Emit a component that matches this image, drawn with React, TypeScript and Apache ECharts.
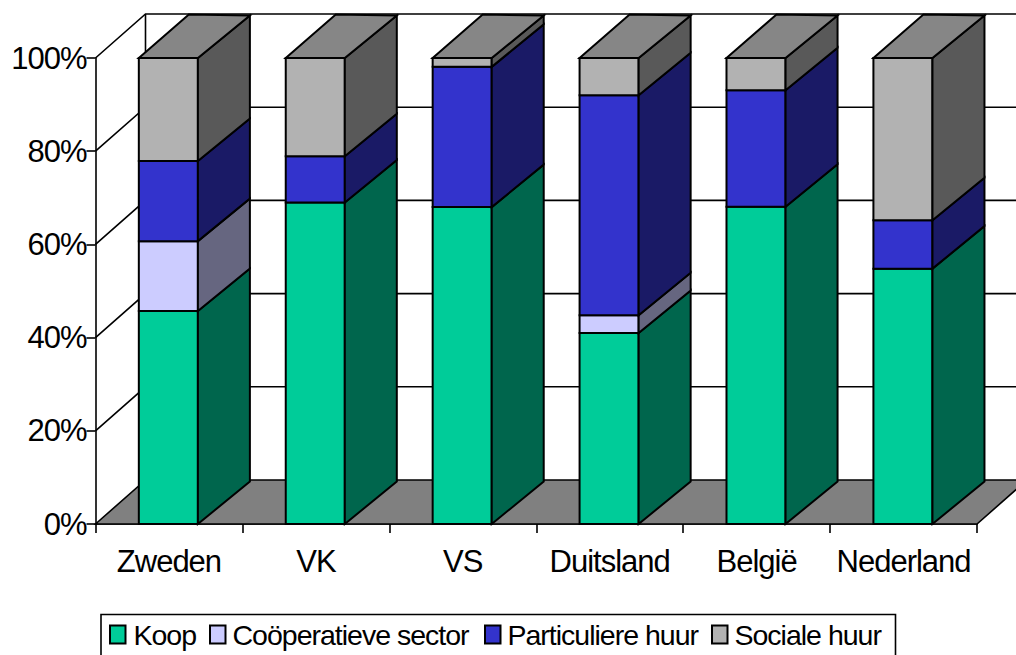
import React, { useEffect, useRef } from "react";
import * as echarts from "echarts";

const categories = ["Zweden", "VK", "VS", "Duitsland", "België", "Nederland"];
const koop = [45.7, 69, 68, 41, 68.1, 54.8];
const cooperatief = [15, 0, 0, 3.8, 0, 0];
const particulier = [17.2, 9.9, 30.1, 47.2, 25, 10.4];
const sociaal = [22.1, 21.1, 1.9, 8, 6.9, 34.8];
const yTicks = [0, 20, 40, 60, 80, 100];

const seriesNames = ["Koop", "Coöperatieve sector", "Particuliere huur", "Sociale huur"];
const seriesValues = [koop, cooperatief, particulier, sociaal];
const frontColors = ["#00CC99", "#CCCCFF", "#3333CC", "#B2B2B2"];
const sideColors = ["#00664D", "#666680", "#1A1A66", "#595959"];
const legendLefts = [109, 209, 484, 711];
const legendTextPads = [3, 2, 2, 2];
const topColor = "#868686";
const floorColor = "#808080";
const FONT = '"Liberation Sans", Arial, sans-serif';
const WALL_DX = 50;
const WALL_DY = -44;
const BAR_DX = 52;
const BAR_DY = -42.5;
const LW = 1.6;
const BAR_LW = 2;

export default function App() {
  const ref = useRef<HTMLDivElement>(null);
  useEffect(() => {
    const chart = echarts.init(ref.current!, null, { renderer: "svg" });
    const line = { stroke: "#000", lineWidth: LW, fill: "none" };
    const walls = {
      type: "custom",
      silent: true,
      clip: false,
      z: 1,
      data: yTicks.map((t) => [t]),
      renderItem: (params: any, api: any) => {
        const cs = params.coordSys;
        const y = api.coord([0, api.value(0)])[1];
        const x0 = cs.x;
        const x1 = cs.x + cs.width;
        const children: any[] = [];
        if (api.value(0) === 0) {
          children.push({
            type: "polygon",
            shape: {
              points: [
                [x0, y],
                [x0 + WALL_DX, y + WALL_DY],
                [x1 + WALL_DX, y + WALL_DY],
                [x1, y],
              ],
            },
            style: { fill: floorColor, stroke: "#000", lineWidth: LW },
          });
          children.push({
            type: "line",
            shape: { x1: x0 + WALL_DX, y1: y + WALL_DY, x2: x0 + WALL_DX, y2: cs.y + WALL_DY },
            style: line,
          });
        } else {
          children.push({
            type: "polyline",
            shape: {
              points: [
                [x0, y],
                [x0 + WALL_DX, y + WALL_DY],
                [x1 + WALL_DX, y + WALL_DY],
              ],
            },
            style: line,
          });
        }
        return { type: "group", children };
      },
    };

    const bars = seriesNames.map((name, si) => ({
      name,
      type: "custom",
      clip: false,
      z: 3,
      itemStyle: { color: frontColors[si], borderColor: "#000", borderWidth: BAR_LW },
      data: categories.map((_, c) => {
        let base = 0;
        for (let k = 0; k < si; k++) base += seriesValues[k][c];
        return [c, base, base + seriesValues[si][c]];
      }),
      encode: { x: 0, y: [1, 2] },
      renderItem: (params: any, api: any) => {
        const c = api.value(0);
        const lo = api.value(1);
        const hi = api.value(2);
        if (hi - lo <= 0) return null;
        const w = api.size([1, 0])[0] * 0.402;
        const cx = api.coord([c, 0])[0] - 0.6;
        const yLo = api.coord([c, lo])[1];
        const yHi = api.coord([c, hi])[1];
        const l = cx - w / 2;
        const r = cx + w / 2;
        const edge = { stroke: "#000", lineWidth: BAR_LW, lineJoin: "miter" };
        const children: any[] = [
          {
            type: "rect",
            shape: { x: l, y: yHi, width: w, height: yLo - yHi },
            style: { fill: frontColors[si], ...edge },
          },
          {
            type: "polygon",
            shape: {
              points: [
                [r, yLo],
                [r + BAR_DX, yLo + BAR_DY],
                [r + BAR_DX, yHi + BAR_DY],
                [r, yHi],
              ],
            },
            style: { fill: sideColors[si], ...edge },
          },
        ];
        if (si === seriesNames.length - 1) {
          children.push({
            type: "polygon",
            shape: {
              points: [
                [l, yHi],
                [l + BAR_DX - 2, yHi + BAR_DY - 1],
                [r + BAR_DX, yHi + BAR_DY],
                [r, yHi],
              ],
            },
            style: { fill: topColor, ...edge },
          });
        }
        return { type: "group", children };
      },
    }));

    chart.setOption({
      animation: false,
      backgroundColor: "#fff",
      grid: { left: 95.5, right: 39, top: 58, bottom: 131, containLabel: false },
      xAxis: {
        type: "category",
        data: categories,
        boundaryGap: true,
        axisLine: { lineStyle: { color: "#000", width: LW } },
        axisTick: { show: true, length: 9, lineStyle: { color: "#000", width: LW } },
        axisLabel: { color: "#000", fontSize: 31, fontFamily: FONT, margin: 22, interval: 0 },
        splitLine: { show: false },
      },
      yAxis: {
        type: "value",
        min: 0,
        max: 100,
        interval: 20,
        axisLine: { show: true, lineStyle: { color: "#000", width: LW } },
        axisTick: { show: true, length: 9, lineStyle: { color: "#000", width: LW } },
        axisLabel: { color: "#000", fontSize: 31, fontFamily: FONT, margin: 9, formatter: "{value}%" },
        splitLine: { show: false },
      },
      legend: seriesNames.map((name, i) => ({
        show: true,
        left: legendLefts[i],
        top: 620,
        padding: 0,
        orient: "horizontal",
        selectedMode: false,
        data: [
          {
            name,
            icon: "rect",
            itemStyle: { color: frontColors[i], borderColor: "#000", borderWidth: 2 },
          },
        ],
        itemWidth: 15.5,
        itemHeight: 18,
        textStyle: { color: "#000", fontSize: 28.5, fontFamily: FONT, padding: [3, 0, 0, legendTextPads[i]] },
      })),
      graphic: [
        {
          type: "rect",
          shape: { x: 101, y: 614.5, width: 794.5, height: 60 },
          style: { fill: "none", stroke: "#000", lineWidth: LW },
        },
      ],
      series: [walls, ...bars],
    });
    return () => chart.dispose();
  }, []);
  return (
    <div
      ref={ref}
      style={{
        position: "absolute",
        left: 0,
        top: 0,
        width: 1016,
        height: 655,
        overflow: "hidden",
        letterSpacing: "-1px",
      }}
    />
  );
}
